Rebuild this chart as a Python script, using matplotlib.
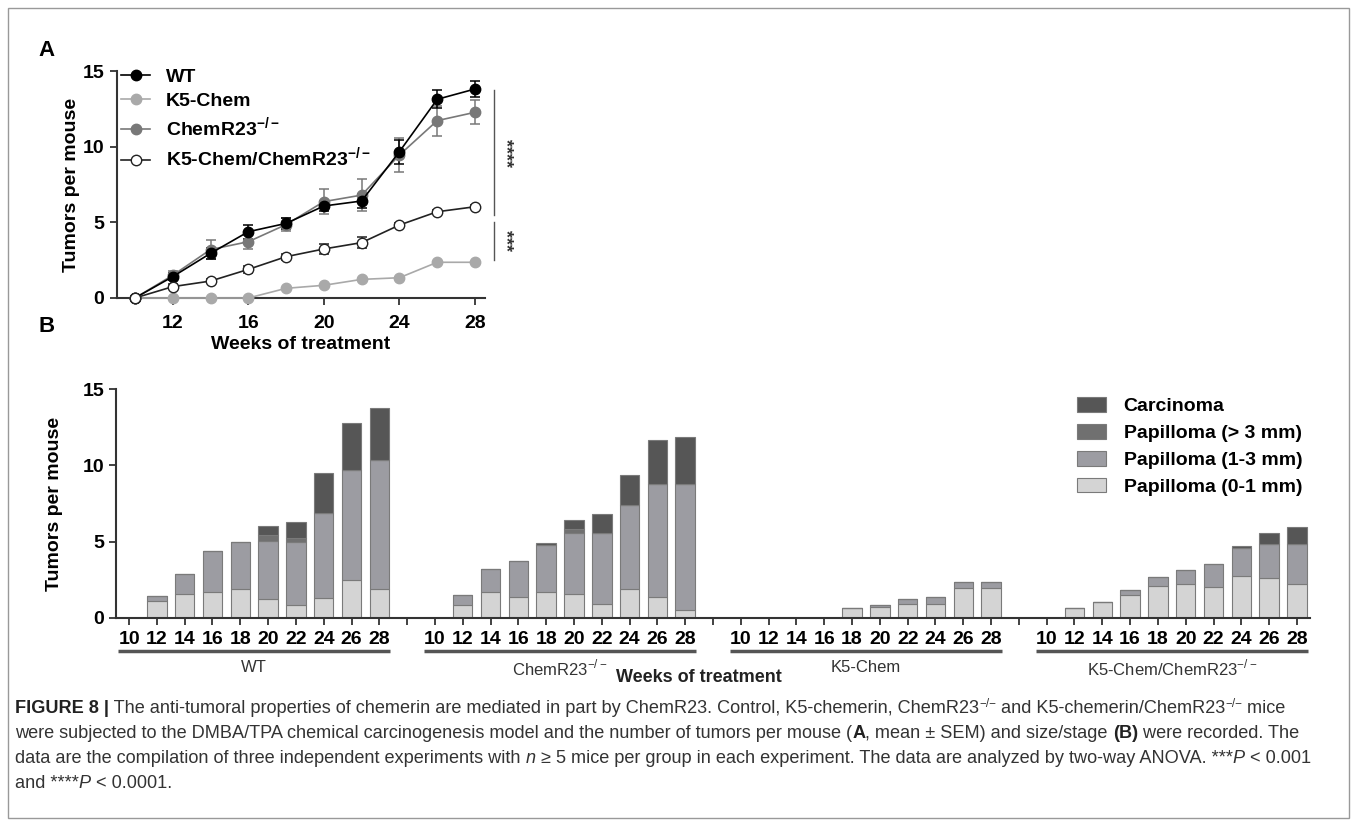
import matplotlib
matplotlib.use("Agg")
import matplotlib.pyplot as plt
import matplotlib.transforms as mtransforms
from matplotlib.lines import Line2D
from matplotlib.patches import Patch, Rectangle
import numpy as np

plt.rcParams['font.family'] = ['Liberation Sans', 'DejaVu Sans']
plt.rcParams['mathtext.fontset'] = 'custom'
plt.rcParams['mathtext.rm'] = 'Liberation Sans'
plt.rcParams['mathtext.bf'] = 'Liberation Sans:bold'
NARROW = ['Liberation Sans Narrow', 'Liberation Sans', 'DejaVu Sans']

# ---- panel A data: mean +- SEM ----
weeks = [10, 12, 14, 16, 18, 20, 22, 24, 26, 28]
wt_mean = [0, 1.41, 2.95, 4.38, 4.93, 6.08, 6.41, 9.67, 13.13, 13.81]
wt_sem = [0.1, 0.25, 0.35, 0.45, 0.35, 0.35, 0.45, 0.8, 0.6, 0.55]
k5_mean = [0, 0, 0, 0, 0.64, 0.84, 1.23, 1.34, 2.36, 2.36]
k5_sem = [0, 0, 0, 0, 0.05, 0.05, 0.05, 0.05, 0.05, 0.05]
chem_mean = [0, 1.5, 3.2, 3.72, 4.85, 6.37, 6.8, 9.45, 11.72, 12.27]
chem_sem = [0.1, 0.3, 0.65, 0.45, 0.45, 0.85, 1.05, 1.1, 1.0, 0.8]
dko_mean = [0, 0.75, 1.12, 1.89, 2.73, 3.24, 3.66, 4.82, 5.7, 6.03]
dko_sem = [0.05, 0.15, 0.15, 0.25, 0.2, 0.35, 0.35, 0.15, 0.1, 0.1]

# ---- panel B data: stacked by size / stage ----
groups = ['WT', r'ChemR23$^{-/-}$', 'K5-Chem', r'K5-Chem/ChemR23$^{-/-}$']
pap_small = [
    [0, 1.09, 1.57, 1.70, 1.90, 1.26, 0.85, 1.31, 2.46, 1.90],
    [0, 0.85, 1.70, 1.37, 1.70, 1.59, 0.94, 1.92, 1.35, 0.55],
    [0, 0, 0, 0, 0.63, 0.72, 0.92, 0.92, 1.97, 1.97],
    [0, 0.68, 1.05, 1.51, 2.10, 2.23, 2.03, 2.75, 2.62, 2.23],
]
pap_mid = [
    [0, 0.33, 1.33, 2.66, 3.09, 3.78, 4.12, 5.56, 7.26, 8.46],
    [0, 0.65, 1.53, 2.36, 3.05, 4.01, 4.66, 5.47, 7.44, 8.21],
    [0, 0, 0, 0, 0, 0.13, 0.32, 0.46, 0.37, 0.37],
    [0, 0, 0, 0.30, 0.61, 0.94, 1.53, 1.81, 2.25, 2.64],
]
pap_large = [
    [0, 0, 0, 0, 0, 0.41, 0.26, 0, 0, 0],
    [0, 0, 0, 0, 0, 0.22, 0, 0, 0, 0],
    [0, 0, 0, 0, 0, 0, 0, 0, 0, 0],
    [0, 0, 0, 0, 0, 0, 0, 0, 0, 0],
]
carcinoma = [
    [0, 0, 0, 0, 0, 0.59, 1.05, 2.63, 3.03, 3.42],
    [0, 0, 0, 0, 0.13, 0.57, 1.18, 1.98, 2.87, 3.12],
    [0, 0, 0, 0, 0, 0, 0, 0, 0, 0],
    [0, 0, 0, 0, 0, 0, 0, 0.16, 0.68, 1.09],
]
stage_names = ['Papilloma (0-1 mm)', 'Papilloma (1-3 mm)', 'Papilloma (> 3 mm)', 'Carcinoma']
stage_colors = ['#d4d4d4', '#9c9ca2', '#707070', '#565656']

W, H = 1357, 825
fig = plt.figure(figsize=(W / 100, H / 100), dpi=100)


def fx(px):
    return px / W


def fy(py):
    return 1 - py / H


# ================= panel A =================
axA = fig.add_axes([fx(117), fy(298), fx(485 - 117), (298 - 71) / H])
series = [
    (k5_mean, k5_sem, '#a9a9a9', '#a9a9a9', 'K5-Chem'),
    (chem_mean, chem_sem, '#787878', '#787878', r'ChemR23$^{\mathbf{-/-}}$'),
    (wt_mean, wt_sem, 'black', 'black', 'WT'),
    (dko_mean, dko_sem, '#222222', 'white', r'K5-Chem/ChemR23$^{\mathbf{-/-}}$'),
]
handles = {}
for mean, sem, col, face, lab in series:
    axA.errorbar(weeks, mean, yerr=sem, fmt='-o', color=col, mfc=face, mec=col,
                 ms=7.5, lw=1.2, elinewidth=1.1, capsize=3.5, capthick=1.1,
                 clip_on=False, zorder=3)
    handles[lab] = Line2D([], [], color=col, marker='o', mfc=face, mec=col, ms=7.5, lw=1.2)

order = ['WT', 'K5-Chem', r'ChemR23$^{\mathbf{-/-}}$', r'K5-Chem/ChemR23$^{\mathbf{-/-}}$']
axA.legend([handles[k] for k in order], order, loc='upper left', bbox_to_anchor=(-0.01, 1.045),
           frameon=False, prop={'weight': 'bold', 'size': 14}, handlelength=1.5,
           handletextpad=0.8, labelspacing=0.3, borderaxespad=0)

axA.set_xlim(9.05, 28.53)
axA.set_ylim(0, 15)
axA.set_xticks([12, 16, 20, 24, 28])
axA.set_yticks([0, 5, 10, 15])
for s in ['top', 'right']:
    axA.spines[s].set_visible(False)
for s in ['left', 'bottom']:
    axA.spines[s].set_color('#333333')
    axA.spines[s].set_linewidth(1.5)
axA.tick_params(length=5, width=1.3, color='#333333', labelsize=14, pad=4)
axA.tick_params(axis='x', pad=7)
for t in axA.get_xticklabels() + axA.get_yticklabels():
    t.set_fontweight('bold')
axA.set_xlabel('Weeks of treatment', fontsize=14, fontweight='bold', labelpad=3)
axA.set_ylabel('Tumors per mouse', fontsize=14, fontweight='bold', labelpad=2)

# significance brackets
axA.plot([28.99, 28.99], [13.75, 5.49], color='#555555', lw=1, clip_on=False)
axA.plot([28.99, 28.99], [5.02, 2.51], color='#555555', lw=1, clip_on=False)
axA.text(29.6, 9.6, '****', rotation=270, ha='center', va='center', fontsize=13,
         fontweight='bold', color='#333333', clip_on=False)
axA.text(29.6, 3.8, '***', rotation=270, ha='center', va='center', fontsize=13,
         fontweight='bold', color='#333333', clip_on=False)

# ================= panel B =================
axB = fig.add_axes([fx(116), fy(618), fx(1310 - 116), (618 - 389) / H])
gap = 11
all_pos = []
all_labels = []
for g in range(len(groups)):
    pos = np.arange(len(weeks)) + g * gap
    bottom = np.zeros(len(weeks))
    for vals, col in zip([pap_small[g], pap_mid[g], pap_large[g], carcinoma[g]], stage_colors):
        v = np.array(vals)
        axB.bar(pos, v, bottom=bottom, width=0.7, color=col, edgecolor='#7a7a7a', lw=0.8, zorder=2)
        bottom = bottom + v
    all_pos += list(pos)
    all_labels += [str(w) for w in weeks]
    if g < len(groups) - 1:
        all_pos.append(pos[-1] + 1)
        all_labels.append('')

axB.set_xlim(-0.47, all_pos[-1] + 0.47)
axB.set_ylim(0, 15)
axB.set_yticks([0, 5, 10, 15])
axB.set_xticks(all_pos)
axB.set_xticklabels(all_labels, fontsize=13.5, fontweight='bold', family=NARROW)
for s in ['top', 'right']:
    axB.spines[s].set_visible(False)
for s in ['left', 'bottom']:
    axB.spines[s].set_color('#333333')
    axB.spines[s].set_linewidth(1.5)
axB.tick_params(length=5, width=1.3, color='#333333', labelsize=14)
axB.tick_params(axis='x', pad=4)
for t in axB.get_yticklabels():
    t.set_fontweight('bold')
axB.set_ylabel('Tumors per mouse', fontsize=14, fontweight='bold', labelpad=14)

trans = mtransforms.blended_transform_factory(axB.transData, axB.transAxes)
for g, name in enumerate(groups):
    x0 = g * gap
    axB.plot([x0 - 0.4, x0 + len(weeks) - 1 + 0.4], [-0.145, -0.145], color='#555555', lw=2.5,
             transform=trans, clip_on=False, solid_capstyle='butt')
    axB.text(x0 + (len(weeks) - 1) / 2, -0.218, name, transform=trans, ha='center', va='center',
             fontsize=12, family=NARROW, color='#333333')
axB.text(20.5, -0.26, 'Weeks of treatment', transform=trans, ha='center', va='center',
         fontsize=13, fontweight='bold', family=NARROW, color='#222222')

leg_handles = [Patch(facecolor=c, edgecolor='#7a7a7a', lw=0.8) for c in stage_colors][::-1]
axB.legend(leg_handles, stage_names[::-1], loc='upper right', bbox_to_anchor=(1.0, 1.0),
           frameon=False, prop={'weight': 'bold', 'size': 14}, handlelength=1.5,
           handleheight=0.8, handletextpad=0.9, labelspacing=0.45, borderaxespad=0)

# panel letters
fig.text(fx(38), fy(50), 'A', fontsize=16, fontweight='bold', va='center')
fig.text(fx(38), fy(326), 'B', fontsize=16, fontweight='bold', va='center')

# ================= caption =================
renderer = fig.canvas.get_renderer()
CAP = 13.1
cap_col = '#333333'


def draw_line(x, y, pieces):
    for txt, style in pieces:
        kw = dict(fontsize=CAP, family=NARROW, color=cap_col, va='baseline', ha='left')
        rise = 0
        if style == 'b':
            kw['fontweight'] = 'bold'
            kw['color'] = '#222222'
        elif style == 'i':
            kw['fontstyle'] = 'italic'
        elif style == 'sup':
            kw['fontsize'] = CAP * 0.65
            rise = 6
        t = fig.text(fx(x), fy(y - rise), txt, **kw)
        x += t.get_window_extent(renderer).width


draw_line(15, 713, [('FIGURE 8 |', 'b'),
                    (' The anti-tumoral properties of chemerin are mediated in part by ChemR23. Control, K5-chemerin, ChemR23', ''),
                    ('\u2212/\u2212', 'sup'), (' and K5-chemerin/ChemR23', ''), ('\u2212/\u2212', 'sup'), (' mice', '')])
draw_line(15, 738, [('were subjected to the DMBA/TPA chemical carcinogenesis model and the number of tumors per mouse (', ''),
                    ('A', 'b'), (', mean \u00b1 SEM) and size/stage ', ''), ('(B)', 'b'), (' were recorded. The', '')])
draw_line(15, 763, [('data are the compilation of three independent experiments with ', ''), ('n', 'i'),
                    (' \u2265 5 mice per group in each experiment. The data are analyzed by two-way ANOVA. ***', ''),
                    ('P', 'i'), (' < 0.001', '')])
draw_line(15, 788, [('and ****', ''), ('P', 'i'), (' < 0.0001.', '')])

fig.add_artist(Rectangle((fx(8), fy(818)), fx(1349 - 8), (818 - 8) / H, fill=False,
                         edgecolor='#999999', lw=1, transform=fig.transFigure))

fig.savefig('out.png', dpi=100)
